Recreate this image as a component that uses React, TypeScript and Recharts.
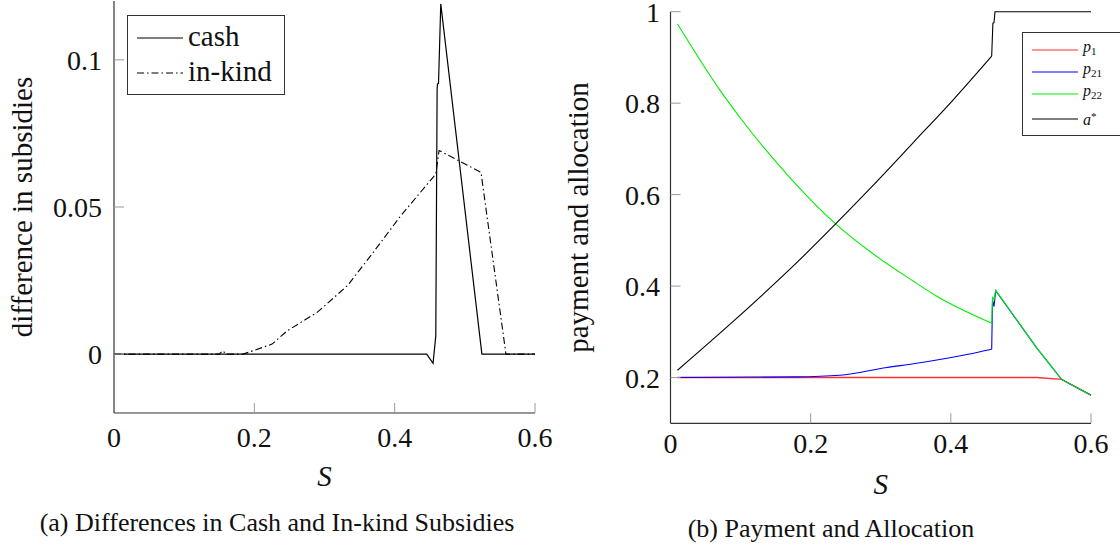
import { LineChart, Line, XAxis, YAxis, Legend } from "recharts";

// (a) difference in subsidies, each series has its own S grid
const cashS = [0, 0.4457, 0.4547, 0.4586, 0.4605, 0.461, 0.4625, 0.4657, 0.5243, 0.6];
const cashDiff = [0, 0, -0.0031, 0.0062, 0.09, 0.0918, 0.092, 0.119, 0, 0];

const inKindS = [0, 0.15, 0.155, 0.16, 0.184, 0.2252, 0.2467, 0.2895, 0.3324, 0.3657, 0.4086, 0.4586, 0.4633, 0.523, 0.5586, 0.6];
const inKindDiff = [0, 0, 0.0012, 0, 0, 0.0034, 0.0079, 0.0142, 0.0232, 0.0334, 0.047, 0.0612, 0.0692, 0.0618, 0, 0];

// (b) payment and allocation
const p1S = [0.01, 0.5225, 0.558, 0.6];
const p1 = [0.2, 0.2, 0.196, 0.1615];

const p21S = [0.01, 0.18, 0.2415, 0.3086, 0.3487, 0.4247, 0.4583, 0.4595, 0.4616, 0.464, 0.5225, 0.558, 0.6];
const p21 = [0.2, 0.2015, 0.205, 0.222, 0.2306, 0.2509, 0.262, 0.37, 0.355, 0.39, 0.265, 0.196, 0.1615];

const p22S = [0.01, 0.0708, 0.1016, 0.1729, 0.2356, 0.287, 0.3477, 0.38, 0.4583, 0.4595, 0.4616, 0.464, 0.5225, 0.558, 0.6];
const p22 = [0.973, 0.828, 0.7637, 0.633, 0.536, 0.4728, 0.4095, 0.378, 0.319, 0.375, 0.371, 0.391, 0.265, 0.196, 0.1615];

const aS = [0.01, 0.0874, 0.1823, 0.2356, 0.287, 0.3477, 0.4037, 0.4583, 0.46, 0.4616, 0.463, 0.6];
const aStar = [0.216, 0.32, 0.4545, 0.536, 0.617, 0.716, 0.808, 0.903, 0.975, 0.976, 1, 1];

// index of S = 0.4583, where the smooth branch ends and the jump begins
const JUMP_AT = { p21: 6, p22: 8, a: 7 };

const sTicks = [0, 0.2, 0.4, 0.6];
const diffTicks = [0, 0.05, 0.1];
const payTicks = [0.2, 0.4, 0.6, 0.8, 1];

const SERIF = '"Liberation Serif", "Times New Roman", Times, "DejaVu Serif", serif';
const AXIS = "#333";
const TICK = "#9a9a9a";
const RED = "#ff3030";
const GREEN = "#00ee00";

const zip = (xs: number[], ys: number[]) => xs.map((s, i) => ({ s, v: ys[i] }));
const head = (xs: number[], ys: number[], k: number) => zip(xs, ys).slice(0, k + 1);
const tail = (xs: number[], ys: number[], k: number) => zip(xs, ys).slice(k);

// pgfplots-style ticks: short grey marks pointing into the plot
function YTick(props: any) {
  const { x, y, payload, gap } = props;
  const axisX = x + gap;
  return (
    <g>
      <line x1={axisX} x2={axisX + 10} y1={y} y2={y} stroke={TICK} strokeWidth={1} />
      <text x={x} y={y + 10} textAnchor="end" fontFamily={SERIF} fontSize={28} fill="#111">
        {String(payload.value)}
      </text>
    </g>
  );
}

function XTick(props: any) {
  const { x, y, payload, down } = props;
  return (
    <g>
      {payload.value !== 0 && <line x1={x} x2={x} y1={y - 10} y2={y} stroke={TICK} strokeWidth={1} />}
      <text x={x} y={y + down} textAnchor="middle" fontFamily={SERIF} fontSize={28} fill="#111">
        {String(payload.value)}
      </text>
    </g>
  );
}

function LegendLine({ dash, color }: { dash?: string; color: string }) {
  return (
    <svg width={46} height={4} style={{ display: "block" }}>
      <line x1={0} x2={46} y1={2} y2={2} stroke={color} strokeWidth={1.2} strokeDasharray={dash} />
    </svg>
  );
}

function DiffLegend() {
  const rows = [
    { label: "cash", dash: undefined, top: 22 },
    { label: "in-kind", dash: "7 3 1.5 3", top: 57 },
  ];
  return (
    <div style={{ position: "relative", width: 158, height: 80, boxSizing: "border-box", border: `1px solid ${AXIS}`, background: "#fff", fontFamily: SERIF }}>
      {rows.map((r) => (
        <div key={r.label} style={{ position: "absolute", left: 9, top: r.top - 2, height: 4 }}>
          <LegendLine dash={r.dash} color="#000" />
          <span style={{ position: "absolute", left: 51, top: -18, fontSize: 29, lineHeight: "36px", whiteSpace: "nowrap", color: "#111" }}>
            {r.label}
          </span>
        </div>
      ))}
    </div>
  );
}

function PayLegend() {
  const rows = [
    { key: "p1", color: RED, base: "p", sub: "1", top: 17 },
    { key: "p21", color: "#0000ff", base: "p", sub: "21", top: 39 },
    { key: "p22", color: GREEN, base: "p", sub: "22", top: 61 },
    { key: "a", color: "#000", base: "a", sub: "", top: 86 },
  ];
  return (
    <div style={{ position: "relative", width: 110, height: 104, boxSizing: "border-box", border: `1px solid ${AXIS}`, background: "#fff", fontFamily: SERIF }}>
      {rows.map((r) => (
        <div key={r.key} style={{ position: "absolute", left: 9, top: r.top - 2, height: 4 }}>
          <LegendLine color={r.color} />
          <span style={{ position: "absolute", left: 51, top: -10, fontSize: 16, lineHeight: "18px", whiteSpace: "nowrap", color: "#111" }}>
            <i>{r.base}</i>
            {r.sub ? <sub style={{ fontSize: 11, verticalAlign: "-3px" }}>{r.sub}</sub> : <sup style={{ fontSize: 11, verticalAlign: "5px" }}>*</sup>}
          </span>
        </div>
      ))}
    </div>
  );
}

function Caption({ text, center, top }: { text: string; center: number; top: number }) {
  return (
    <div style={{ position: "absolute", left: center - 300, top, width: 600, textAlign: "center", fontFamily: SERIF, fontSize: 26, lineHeight: "26px", color: "#111" }}>
      {text}
    </div>
  );
}

const lineProps = { dataKey: "v", strokeWidth: 1.1, dot: false, isAnimationActive: false, legendType: "none" as const };

export default function App() {
  return (
    <div style={{ position: "absolute", left: 0, top: 0, width: 1120, height: 552, overflow: "hidden", background: "#fff" }}>
      <div style={{ position: "absolute", left: 0, top: 0 }}>
        <LineChart width={560} height={500} margin={{ top: 1, right: 25, bottom: 0, left: 0 }}>
          <XAxis
            dataKey="s"
            type="number"
            domain={[0, 0.6]}
            ticks={sTicks}
            interval={0}
            height={87}
            tickSize={0}
            tickMargin={0}
            tickLine={false}
            axisLine={{ stroke: AXIS, strokeWidth: 1.2 }}
            tick={<XTick down={34} />}
            label={{ value: "S", position: "insideTop", offset: 52, fontFamily: SERIF, fontSize: 29, fontStyle: "italic", fill: "#111" }}
          />
          <YAxis
            type="number"
            domain={[-0.02, 0.12]}
            ticks={diffTicks}
            interval={0}
            width={114}
            tickSize={0}
            tickMargin={12}
            tickLine={false}
            axisLine={{ stroke: AXIS, strokeWidth: 1.2 }}
            tick={<YTick gap={12} />}
            label={{ value: "difference in subsidies", angle: -90, position: "insideLeft", offset: 22, fontFamily: SERIF, fontSize: 29, fill: "#111", style: { textAnchor: "middle" } }}
          />
          <Legend
            layout="horizontal"
            verticalAlign="middle"
            align="center"
            wrapperStyle={{ left: 127, top: 15, width: 158, height: 80 }}
            content={() => <DiffLegend />}
          />
          <Line {...lineProps} data={zip(inKindS, inKindDiff)} name="in-kind" stroke="#000" strokeDasharray="7 3 1.5 3" />
          <Line {...lineProps} data={zip(cashS, cashDiff)} name="cash" stroke="#000" strokeWidth={1.2} />
        </LineChart>
      </div>
      <div style={{ position: "absolute", left: 560, top: 0 }}>
        <LineChart width={560} height={500} margin={{ top: 11.7, right: 29, bottom: 0, left: 0 }}>
          <XAxis
            dataKey="s"
            type="number"
            domain={[0, 0.6]}
            ticks={sTicks}
            interval={0}
            height={76.7}
            tickSize={0}
            tickMargin={0}
            tickLine={false}
            axisLine={{ stroke: AXIS, strokeWidth: 1.2 }}
            tick={<XTick down={30} />}
            label={{ value: "S", position: "insideTop", offset: 50, fontFamily: SERIF, fontSize: 29, fontStyle: "italic", fill: "#111" }}
          />
          <YAxis
            type="number"
            domain={[0.1, 1]}
            ticks={payTicks}
            interval={0}
            width={110.5}
            tickSize={0}
            tickMargin={10.5}
            tickLine={false}
            axisLine={{ stroke: AXIS, strokeWidth: 1.2 }}
            tick={<YTick gap={10.5} />}
            label={{ value: "payment and allocation", angle: -90, position: "insideLeft", offset: 18, fontFamily: SERIF, fontSize: 29, fill: "#111", style: { textAnchor: "middle" } }}
          />
          <Legend
            layout="horizontal"
            verticalAlign="middle"
            align="center"
            wrapperStyle={{ left: 462, top: 32, width: 110, height: 104 }}
            content={() => <PayLegend />}
          />
          <Line {...lineProps} data={zip(p1S, p1)} name="p1" stroke={RED} strokeWidth={1.4} />
          <Line {...lineProps} type="monotone" data={head(p21S, p21, JUMP_AT.p21)} name="p21" stroke="#0000ff" />
          <Line {...lineProps} data={tail(p21S, p21, JUMP_AT.p21)} name="p21 jump" stroke="#0000ff" />
          <Line {...lineProps} type="monotone" data={head(p22S, p22, JUMP_AT.p22)} name="p22" stroke={GREEN} />
          <Line {...lineProps} data={tail(p22S, p22, JUMP_AT.p22)} name="p22 jump" stroke={GREEN} />
          <Line {...lineProps} type="monotone" data={head(aS, aStar, JUMP_AT.a)} name="a*" stroke="#000" />
          <Line {...lineProps} data={tail(aS, aStar, JUMP_AT.a)} name="a* jump" stroke="#000" />
        </LineChart>
      </div>
      <Caption text="(a) Differences in Cash and In-kind Subsidies" center={277} top={510} />
      <Caption text="(b) Payment and Allocation" center={831} top={516} />
    </div>
  );
}
